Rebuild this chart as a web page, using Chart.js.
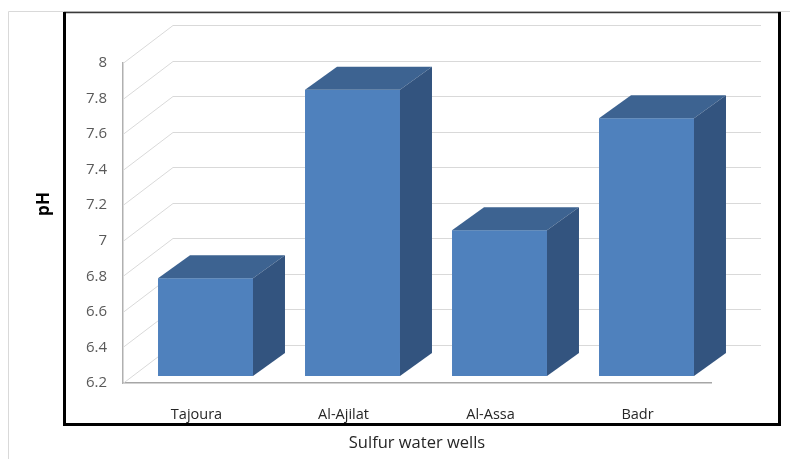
<!DOCTYPE html>
<html>
<head>
<meta charset="utf-8">
<script src="https://cdn.jsdelivr.net/npm/chart.js@4/dist/chart.umd.min.js"></script>
<style>
  html, body { margin: 0; padding: 0; background: #ffffff; }
  canvas { display: block; }
</style>
</head>
<body>
<canvas id="chart" width="790" height="459"></canvas>
<script>
// Sulfur water wells and their measured pH
const wells = ['Tajoura', 'Al-Ajilat', 'Al-Assa', 'Badr'];
const phValues = [6.75, 7.81, 7.02, 7.65];
const yTickValues = [6.2, 6.4, 6.6, 6.8, 7, 7.2, 7.4, 7.6, 7.8, 8];
const yTickLabels = ['6.2', '6.4', '6.6', '6.8', '7', '7.2', '7.4', '7.6', '7.8', '8'];

const FONT = '"Open Sans", "Liberation Sans", sans-serif';

// Oblique depth of the walls and of each bar
const WALL_DX = 50, WALL_DY = -38;
const BAR_SHIFT_X = 9, BAR_SHIFT_Y = -7;
const BAR_DX = 32, BAR_DY = -23;

const COLOR_FRONT = '#4f81bd';
const COLOR_TOP = '#3d6391';
const COLOR_SIDE = '#33547f';
const COLOR_GRID = '#d9d9d9';

const walls3d = {
  id: 'walls3d',
  beforeDatasetsDraw(chart) {
    const { ctx, chartArea } = chart;
    const yScale = chart.scales.y;
    ctx.save();
    ctx.strokeStyle = COLOR_GRID;
    ctx.lineWidth = 1;
    yTickValues.forEach(v => {
      const y = Math.round(yScale.getPixelForValue(v)) + 0.5;
      ctx.beginPath();
      ctx.moveTo(chartArea.left, y);
      ctx.lineTo(chartArea.left + WALL_DX, y + WALL_DY);
      ctx.lineTo(chartArea.right + WALL_DX, y + WALL_DY);
      ctx.stroke();
    });
    ctx.restore();
  }
};

const bars3d = {
  id: 'bars3d',
  afterDatasetsDraw(chart) {
    const { ctx } = chart;
    const yScale = chart.scales.y;
    const floor = yScale.getPixelForValue(yScale.min);
    const meta = chart.getDatasetMeta(0);
    ctx.save();
    meta.data.forEach(el => {
      const p = el.getProps(['x', 'y', 'width'], true);
      const x0 = p.x - p.width / 2 + BAR_SHIFT_X;
      const x1 = x0 + p.width;
      const yT = p.y + BAR_SHIFT_Y;
      const yB = floor + BAR_SHIFT_Y;
      // front face
      ctx.fillStyle = COLOR_FRONT;
      ctx.fillRect(x0, yT, x1 - x0, yB - yT);
      // top face
      ctx.fillStyle = COLOR_TOP;
      ctx.beginPath();
      ctx.moveTo(x0, yT);
      ctx.lineTo(x1, yT);
      ctx.lineTo(x1 + BAR_DX, yT + BAR_DY);
      ctx.lineTo(x0 + BAR_DX, yT + BAR_DY);
      ctx.closePath();
      ctx.fill();
      // side face
      ctx.fillStyle = COLOR_SIDE;
      ctx.beginPath();
      ctx.moveTo(x1, yT);
      ctx.lineTo(x1 + BAR_DX, yT + BAR_DY);
      ctx.lineTo(x1 + BAR_DX, yB + BAR_DY);
      ctx.lineTo(x1, yB);
      ctx.closePath();
      ctx.fill();
    });
    ctx.restore();
  }
};

const frameAndTitles = {
  id: 'frameAndTitles',
  afterDraw(chart) {
    const { ctx } = chart;
    ctx.save();
    // outer light frame
    ctx.strokeStyle = '#d9d9d9';
    ctx.lineWidth = 1;
    ctx.beginPath();
    ctx.moveTo(8.5, 459);
    ctx.lineTo(8.5, 11.5);
    ctx.lineTo(790, 11.5);
    ctx.stroke();
    // plot frame
    ctx.strokeStyle = '#3a3a3a';
    ctx.lineWidth = 1.5;
    ctx.beginPath();
    ctx.moveTo(64, 12.5);
    ctx.lineTo(781, 12.5);
    ctx.stroke();
    ctx.strokeStyle = '#000000';
    ctx.lineWidth = 3;
    ctx.beginPath();
    ctx.moveTo(64.5, 12);
    ctx.lineTo(64.5, 424.5);
    ctx.lineTo(779.5, 424.5);
    ctx.lineTo(779.5, 12);
    ctx.stroke();
    // axis titles
    ctx.fillStyle = '#000000';
    ctx.font = 'bold 17px ' + FONT;
    ctx.textAlign = 'center';
    ctx.textBaseline = 'middle';
    ctx.translate(44, 204);
    ctx.rotate(-Math.PI / 2);
    ctx.fillText('pH', 0, 0);
    ctx.setTransform(1, 0, 0, 1, 0, 0);
    ctx.fillStyle = '#262626';
    ctx.font = '16.5px ' + FONT;
    ctx.fillText('Sulfur water wells', 417, 443);
    ctx.restore();
  }
};

new Chart(document.getElementById('chart'), {
  type: 'bar',
  data: {
    labels: wells,
    datasets: [{
      label: 'pH',
      data: phValues,
      backgroundColor: 'rgba(0,0,0,0)',
      borderWidth: 0,
      categoryPercentage: 1,
      barPercentage: 0.646
    }]
  },
  options: {
    responsive: false,
    devicePixelRatio: 1,
    animation: false,
    layout: { padding: { top: 63, right: 79, left: 0, bottom: 0 } },
    plugins: {
      legend: { display: false },
      tooltip: { enabled: false },
      title: { display: false }
    },
    scales: {
      x: {
        grid: { display: false },
        border: { display: true, color: '#a6a6a6', width: 1.5 },
        ticks: {
          color: '#262626',
          font: { family: FONT, size: 14.5 },
          padding: 15
        },
        afterFit(s) { s.height = 76; }
      },
      y: {
        min: 6.2,
        max: 8,
        grid: { display: false, drawTicks: false },
        border: { display: true, color: '#b0b0b0', width: 1.5 },
        afterBuildTicks(s) { s.ticks = yTickValues.map(v => ({ value: v })); },
        ticks: {
          color: '#595959',
          font: { family: FONT, size: 15 },
          padding: 16,
          callback: (v) => yTickLabels[yTickValues.findIndex(t => Math.abs(t - v) < 1e-6)]
        },
        afterFit(s) { s.width = 123; }
      }
    }
  },
  plugins: [walls3d, bars3d, frameAndTitles]
});
</script>
</body>
</html>
